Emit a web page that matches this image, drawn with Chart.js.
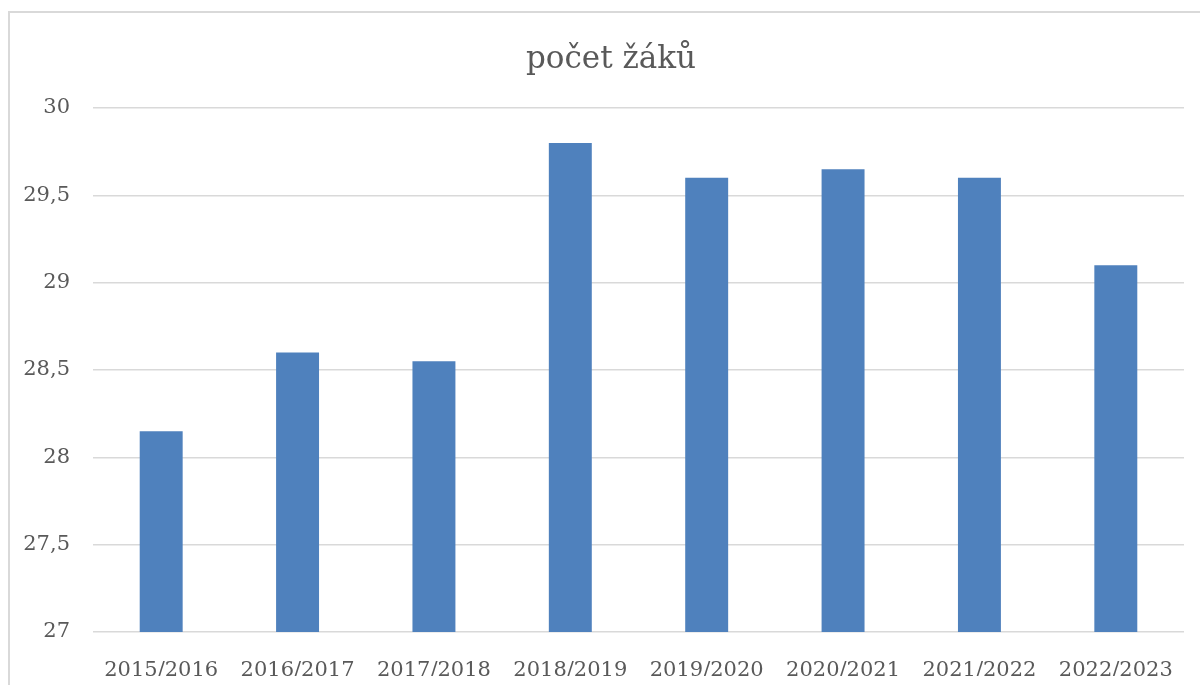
<!DOCTYPE html>
<html>
<head>
<meta charset="utf-8">
<script src="https://cdn.jsdelivr.net/npm/chart.js@4/dist/chart.umd.min.js"></script>
<style>
  body { margin: 0; background: #fff; overflow: hidden; }
  #wrap { position: relative; width: 1200px; height: 685px; }
  #frame { position: absolute; left: 8px; top: 11px; width: 1200px; height: 700px; border: 2px solid #d9d9d9; box-sizing: border-box; }
  canvas { position: absolute; left: 0; top: 0; }
</style>
</head>
<body>
<div id="wrap">
  <div id="frame"></div>
  <canvas id="myChart" width="1200" height="685"></canvas>
</div>
<script>
const skolniRoky = ['2015/2016', '2016/2017', '2017/2018', '2018/2019', '2019/2020', '2020/2021', '2021/2022', '2022/2023'];
const pocetZaku = [28.15, 28.6, 28.55, 29.8, 29.6, 29.65, 29.6, 29.1];
const osaY = { min: 27, max: 30, krok: 0.5 };
const nadpis = 'počet žáků';

(function () {
    const ctx = document.getElementById('myChart');
    const font = 'DejaVu Serif';
    const barvaTextu = '#595959';

    // nadpis kreslim sam, v Excelu je vycentrovany na cely ramecek grafu
    const nadpisPlugin = {
        id: 'nadpis',
        afterDraw(chart) {
            const c = chart.ctx;
            c.save();
            c.font = '31px "' + font + '"';
            c.fillStyle = barvaTextu;
            c.textAlign = 'center';
            c.textBaseline = 'middle';
            c.fillText(nadpis, 611, 60);
            c.restore();
        }
    };

    const data = {
        labels: skolniRoky,
        datasets: [{
            label: nadpis,
            data: pocetZaku,
            backgroundColor: '#4f81bd',
            barPercentage: 0.315,
            categoryPercentage: 1
        }]
    };

    const config = {
        type: 'bar',
        data: data,
        options: {
            responsive: false,
            animation: false,
            layout: {
                padding: { top: 108, left: 20, right: 16, bottom: 9 }
            },
            scales: {
                x: {
                    grid: { display: false },
                    border: { display: false },
                    ticks: {
                        color: barvaTextu,
                        font: { family: font, size: 21 },
                        padding: 18,
                        maxRotation: 0
                    },
                    afterFit: scale => { scale.height = 685 - 9 - 632; }
                },
                y: {
                    min: osaY.min,
                    max: osaY.max,
                    grid: { color: '#d9d9d9', lineWidth: 1.5, drawTicks: false },
                    border: { display: false },
                    ticks: {
                        stepSize: osaY.krok,
                        color: barvaTextu,
                        font: { family: font, size: 21 },
                        padding: 23,
                        callback: v => String(v).replace('.', ',')
                    },
                    afterFit: scale => { scale.width = 93 - 20; }
                }
            },
            plugins: {
                legend: { display: false },
                tooltip: { enabled: false },
                title: { display: false }
            }
        },
        plugins: [nadpisPlugin]
    };

    if (ctx) {
        new Chart(ctx, config);
    }
})();
</script>
</body>
</html>
